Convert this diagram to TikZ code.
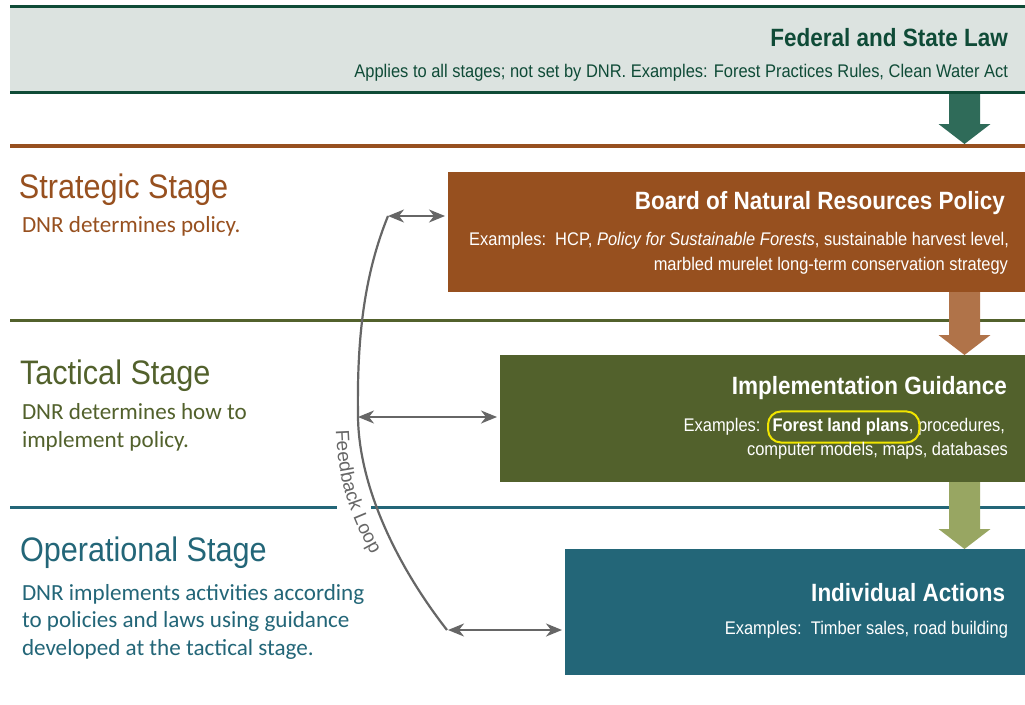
\documentclass[tikz,border=0pt]{standalone}
\usepackage{fontspec}
\setmainfont{Liberation Sans}
\newfontfamily\nar[FakeStretch=0.9]{Liberation Sans}
\newfontfamily\bodyfont{Carlito}
\usetikzlibrary{arrows.meta,calc,fit,decorations.text}

\definecolor{bannerfill}{HTML}{DCE3E0}
\definecolor{fedgreen}{HTML}{0F4B37}
\definecolor{lawarrow}{HTML}{2F6B59}
\definecolor{stratbrown}{HTML}{97501F}
\definecolor{stratarrow}{HTML}{B07349}
\definecolor{tactgreen}{HTML}{52612C}
\definecolor{tactarrow}{HTML}{98A662}
\definecolor{operteal}{HTML}{236678}
\definecolor{loopgray}{HTML}{666666}
\definecolor{hiyellow}{HTML}{F0E500}

% wide block arrow pointing down: colour, start point, tip point
\newcommand\blockarrow[3]{%
  \fill[#1] let \p1=(#2), \p2=(#3) in
    (\x1-15.5pt,\y1) -- (\x1+15.5pt,\y1) -- (\x1+15.5pt,\y2+20pt)
    -- (\x1+26pt,\y2+20pt) -- (\x1,\y2) -- (\x1-26pt,\y2+20pt)
    -- (\x1-15.5pt,\y2+20pt) -- cycle;}

\newcommand\fbfont{\fontsize{19}{22}\selectfont}

\begin{document}
\begin{tikzpicture}[x=1pt,y=-1pt,
  lbl/.style={inner sep=0pt, outer sep=0pt},
  headtxt/.style={lbl, anchor=base east, text=white, font=\nar\bfseries\fontsize{25}{30}\selectfont},
  boxtxt/.style={lbl, anchor=base east, text=white, font=\nar\fontsize{18.3}{22}\selectfont},
  boxbold/.style={boxtxt, font=\nar\bfseries\fontsize{18.3}{22}\selectfont},
  stagetitle/.style={lbl, anchor=base west, font=\nar\fontsize{34}{40}\selectfont},
  stagedesc/.style={lbl, anchor=base west, font=\bodyfont\fontsize{23.1}{27.5}\selectfont},
  panel/.style={anchor=north west, inner sep=0pt, outer sep=0pt, draw=none},
  looparc/.style={draw=loopgray, line width=2.2pt},
  fbarrow/.style={draw=loopgray, line width=2pt, shorten >=3pt,
    {Stealth[length=16pt,width=13pt,inset=5pt]}-{Stealth[length=16pt,width=13pt,inset=5pt]}},
]
\useasboundingbox (0,0) rectangle (1025,704);
\fill[white] (0,0) rectangle (1025,704);

% ---- panels
\node[panel, fill=bannerfill, minimum width=1015, minimum height=86] (banner) at (10,6) {};
\node[panel, fill=stratbrown, minimum width=577, minimum height=120] (board) at (448,172) {};
\node[panel, fill=tactgreen, minimum width=525, minimum height=127] (guide) at (500,355) {};
\node[panel, fill=operteal, minimum width=460, minimum height=126] (actions) at (565,549) {};

% ---- stage separators
\coordinate (s1w) at (10,146);  \coordinate (s1e) at (1025,146);
\coordinate (s2w) at (10,320);  \coordinate (s2e) at (1025,320);
\coordinate (s3w) at (10,507);  \coordinate (s3a) at (337,507);
\coordinate (s3b) at (371,507); \coordinate (s3e) at (1025,507);
\draw[line width=4pt, stratbrown] (s1w) -- (s1e);
\draw[line width=3pt, tactgreen] (s2w) -- (s2e);
\draw[line width=3pt, operteal] (s3w) -- (s3a) (s3b) -- (s3e);

% ---- block arrows between levels
\coordinate (ax) at (964.5,0);
\coordinate (lawtip) at (964.5,144);
\blockarrow{lawarrow}{banner.south -| ax}{lawtip}
\blockarrow{stratarrow}{board.south -| ax}{guide.north -| ax}
\blockarrow{tactarrow}{guide.south -| ax}{actions.north -| ax}

\draw[line width=3pt, fedgreen] (banner.north west) -- (banner.north east);
\draw[line width=3pt, fedgreen] (banner.south west) -- (banner.south east);

% ---- banner text
\node[headtxt, text=fedgreen] (fedtitle) at (1008,46) {Federal and State Law};
\node[boxtxt, text=fedgreen] (fedsub) at (1008,77.5)
  {Applies to all stages; not set by DNR. Examples: Forest Practices Rules, Clean Water Act};

% ---- stage descriptions
\node[stagetitle, text=stratbrown] (strat) at (19,198) {Strategic Stage};
\node[stagedesc, text=stratbrown] (stratd) at (22,232) {DNR determines policy.};

\node[stagetitle, text=tactgreen] (tact) at (20,384) {Tactical Stage};
\node[stagedesc, text=tactgreen] (tactd1) at (22,419.5) {DNR determines how to};
\node[stagedesc, text=tactgreen] (tactd2) at (22,447) {implement policy.};

\node[stagetitle, text=operteal] (oper) at (20,561.5) {Operational Stage};
\node[stagedesc, text=operteal] (operd1) at (22,600) {DNR implements activities according};
\node[stagedesc, text=operteal] (operd2) at (22,627.5) {to policies and laws using guidance};
\node[stagedesc, text=operteal] (operd3) at (22,655) {developed at the tactical stage.};

% ---- box texts
\node[headtxt] (boardt) at (1005,209.5) {Board of Natural Resources Policy};
\node[boxtxt] (boarde1) at (1009,245)
  {Examples:\ \ HCP, \textit{Policy for Sustainable Forests}, sustainable harvest level,};
\node[boxtxt] (boarde2) at (1008,270) {marbled murelet long-term conservation strategy};

\node[headtxt] (guidet) at (1007,394) {Implementation Guidance};
\node[boxtxt] (guidee1c) at (1005,431.7) {, procedures,};
\node[boxbold] (flp) at (guidee1c.base west) {Forest land plans};
\node[boxtxt] (guidee1a) at ([xshift=-12pt]flp.base west) {Examples:};
\node[draw=hiyellow, line width=2pt, rounded corners=13pt, fit=(flp),
      inner xsep=7.5pt, inner ysep=7pt, xshift=3pt] (flpmark) {};
\node[boxtxt] (guidee2) at (1008,455) {computer models, maps, databases};

\node[headtxt] (actt) at (1005,601.7) {Individual Actions};
\node[boxtxt] (acte) at (1008,634) {Examples:\ \ Timber sales, road building};

% ---- feedback loop
\coordinate (fbTop) at (388,216);
\coordinate (fbMid) at (358,417);
\coordinate (fbBot) at (447,630);
\draw[looparc] (fbTop) .. controls (362,280) and (357,347) .. (fbMid)
  .. controls (359,490) and (400,570) .. (fbBot);
\draw[fbarrow] (fbTop) -- (fbTop -| board.west);
\draw[fbarrow] (fbMid) -- (fbMid -| guide.west);
\draw[fbarrow] ([xshift=1pt]fbBot) -- (fbBot -| actions.west);
\path[decorate, decoration={text along path, text align=left, text color=loopgray,
      text={|\fbfont|Feedback Loop}}]
  (336,430) .. controls (338,490) and (355,532) .. (390,584);
\end{tikzpicture}
\end{document}
